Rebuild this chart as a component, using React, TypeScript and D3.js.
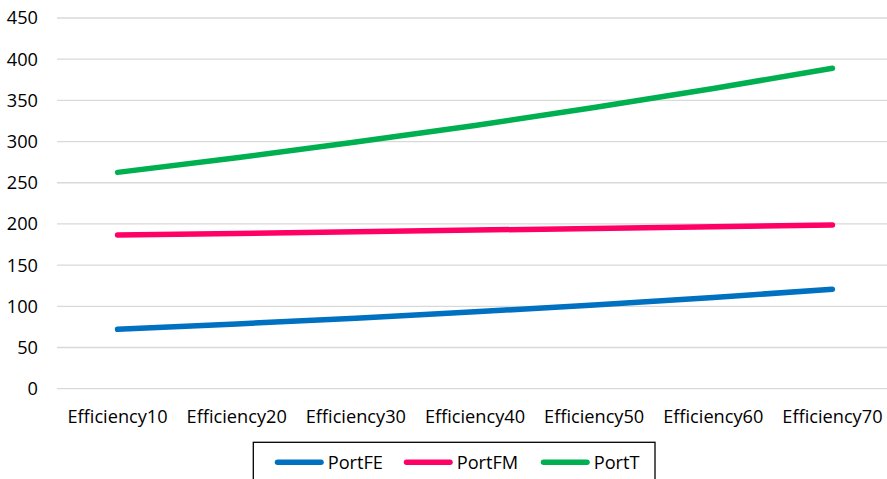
import React from "react";
import * as d3 from "d3";

const categories = ["Efficiency10", "Efficiency20", "Efficiency30", "Efficiency40", "Efficiency50", "Efficiency60", "Efficiency70"];
const portFE = [72.1, 78.6, 85.6, 93.3, 101.7, 110.8, 120.6];
const portFM = [186.5, 188.5, 190.5, 192.5, 194.6, 196.6, 198.7];
const portT = [262.6, 280.4, 299.4, 319.6, 341.3, 364.4, 389];
const yTicks = [0, 50, 100, 150, 200, 250, 300, 350, 400, 450];
const seriesNames = ["PortFE", "PortFM", "PortT"];
const seriesColors = ["#0070C0", "#FF0066", "#00B050"];

const W = 887;
const H = 479;
const FONT = "'Open Sans', sans-serif";
const FS = 18.2;

export default function App() {
  const x = d3.scaleBand<string>().domain(categories).range([58, 892]);
  const y = d3.scaleLinear().domain([0, 450]).range([388.7, 18]);
  const series = [portFE, portFM, portT];
  const line = d3
    .line<number>()
    .x((_, i) => (x(categories[i]) as number) + x.bandwidth() / 2)
    .y((d) => y(d));

  const legendItems = [
    { lx: 277.5, tx: 327.7 },
    { lx: 406.5, tx: 456.7 },
    { lx: 543.5, tx: 593.7 },
  ];

  return (
    <svg
      width={W}
      height={H}
      style={{ position: "absolute", left: 0, top: 0, background: "#fff" }}
      fontFamily={FONT}
    >
      {yTicks.map((t) => (
        <g key={t}>
          <line x1={57} x2={W} y1={y(t)} y2={y(t)} stroke="#D9D9D9" strokeWidth={1.3} />
          <text x={38} y={y(t) + 6.4} textAnchor="end" fontSize={FS} fill="#000">
            {t}
          </text>
        </g>
      ))}
      {categories.map((c) => (
        <text
          key={c}
          x={(x(c) as number) + x.bandwidth() / 2}
          y={423}
          textAnchor="middle"
          fontSize={FS}
          fill="#000"
        >
          {c}
        </text>
      ))}
      {series.map((s, i) => (
        <path
          key={i}
          d={line(s) as string}
          fill="none"
          stroke={seriesColors[i]}
          strokeWidth={5.5}
          strokeLinecap="round"
          strokeLinejoin="round"
        />
      ))}
      <rect x={253.3} y={442.3} width={401.7} height={50} fill="#fff" stroke="#000" strokeWidth={1.3} />
      {seriesNames.map((n, i) => (
        <g key={n}>
          <line
            x1={legendItems[i].lx}
            x2={legendItems[i].lx + 43.5}
            y1={462.3}
            y2={462.3}
            stroke={seriesColors[i]}
            strokeWidth={5.5}
            strokeLinecap="round"
          />
          <text x={legendItems[i].tx} y={468.7} fontSize={FS} fill="#000">
            {n}
          </text>
        </g>
      ))}
    </svg>
  );
}
